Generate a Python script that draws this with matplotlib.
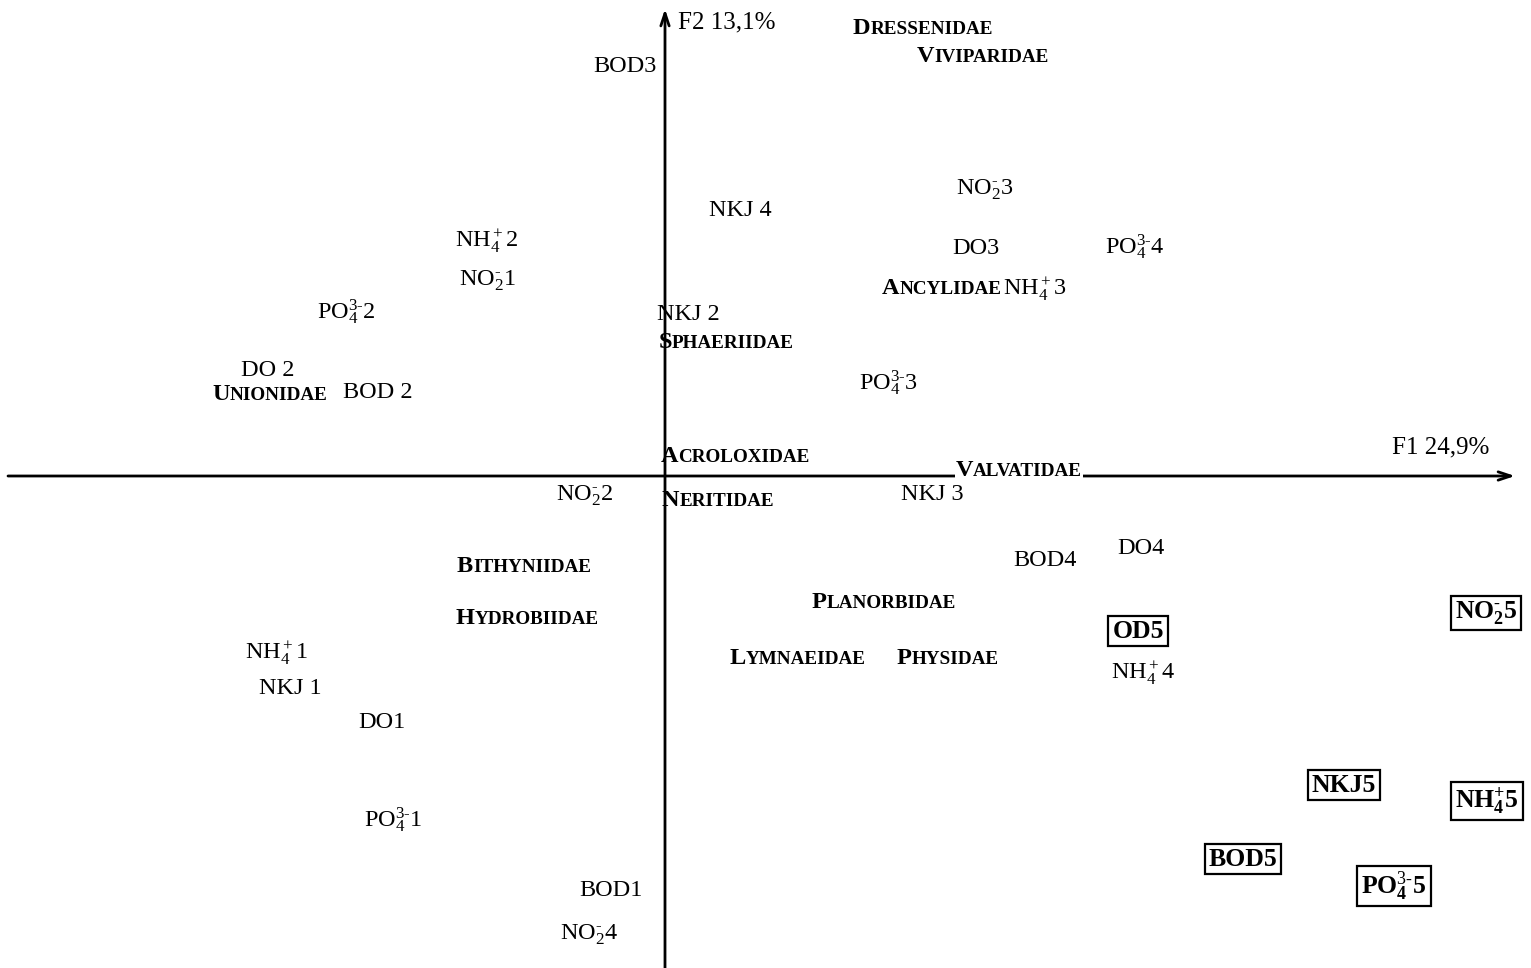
# Correspondence analysis plot: F1 x F2 plane, mollusc families and water quality classes
import matplotlib
matplotlib.use('Agg')
import matplotlib.pyplot as plt
from matplotlib.offsetbox import TextArea, HPacker, AnnotationBbox

plt.rcParams['font.family'] = ['Liberation Serif', 'DejaVu Serif']
plt.rcParams['mathtext.fontset'] = 'custom'
plt.rcParams['mathtext.rm'] = 'Liberation Serif'
plt.rcParams['mathtext.it'] = 'Liberation Serif:italic'
plt.rcParams['mathtext.bf'] = 'Liberation Serif:bold'

NO2 = r'NO$_2^{\text{-}}$'
NH4 = r'NH$_4^+$'
PO4 = r'PO$_4^{\text{3-}}$'

# Variable classes (regular labels): name, F1, F2
var_labels = ['BOD3', 'NKJ 4', NO2 + '3', 'DO3', PO4 + '4', NH4 + '3',
              NH4 + '2', NO2 + '1', PO4 + '2', 'NKJ 2', 'DO 2', 'BOD 2',
              PO4 + '3', NO2 + '2', 'NKJ 3', 'BOD4', 'DO4', NH4 + '4',
              NH4 + '1', 'NKJ 1', 'DO1', PO4 + '1', 'BOD1', NO2 + '4']
var_f1 = [-0.40, 0.75, 3.20, 3.11, 4.70, 3.70,
          -1.78, -1.78, -3.19, 0.23, -3.97, -2.87,
          2.24, -0.80, 2.67, 3.80, 4.76, 4.78,
          -3.89, -3.75, -2.83, -2.72, -0.54, -0.76]
var_f2 = [4.09, 2.66, 2.86, 2.28, 2.29, 1.87,
          2.35, 1.95, 1.64, 1.62, 1.06, 0.84,
          0.93, -0.20, -0.18, -0.84, -0.72, -1.97,
          -1.77, -2.12, -2.47, -3.44, -4.15, -4.59]

# Class 5 (boxed, bold)
box_labels = ['OD5', r'NO$_\mathbf{2}^{\text{-}}$5', 'NKJ5', r'NH$_\mathbf{4}^\mathbf{+}$5',
              'BOD5', r'PO$_\mathbf{4}^{\text{3-}}$5']
box_f1 = [4.73, 8.21, 6.79, 8.22, 5.78, 7.29]
box_f2 = [-1.55, -1.37, -3.09, -3.25, -3.83, -4.10]

# Mollusc families (small caps, bold)
fam_labels = ['Dressenidae', 'Viviparidae', 'Ancylidae', 'Sphaeriidae', 'Unionidae',
              'Acroloxidae', 'Valvatidae', 'Neritidae', 'Bithyniidae', 'Hydrobiidae',
              'Planorbidae', 'Lymnaeidae', 'Physidae']
fam_f1 = [2.58, 3.18, 2.77, 0.61, -3.95, 0.70, 3.54, 0.53, -1.41, -1.38, 2.19, 1.33, 2.83]
fam_f2 = [4.48, 4.20, 1.87, 1.34, 0.81, 0.20, 0.05, -0.25, -0.90, -1.43, -1.27, -1.83, -1.83]

fig = plt.figure(figsize=(15.31, 9.68), dpi=100)
ax = fig.add_axes([0, 0, 1, 1])
ax.set_xlim(-6.65, 8.66)
ax.set_ylim(-4.92, 4.76)
ax.set_axis_off()

# axes of the factorial plane
ax.annotate('', xy=(8.50, 0), xytext=(-6.57, 0),
            arrowprops=dict(arrowstyle='->,head_length=0.9,head_width=0.3',
                            lw=2, color='black', shrinkA=0, shrinkB=0))
ax.annotate('', xy=(0, 4.67), xytext=(0, -4.92),
            arrowprops=dict(arrowstyle='->,head_length=0.9,head_width=0.3',
                            lw=2, color='black', shrinkA=0, shrinkB=0))
ax.text(7.76, 0.29, 'F1 24,9%', fontsize=18, ha='center', va='center')
ax.text(0.13, 4.54, 'F2 13,1%', fontsize=18, ha='left', va='center')

for lab, x, y in zip(var_labels, var_f1, var_f2):
    ax.text(x, y, lab, fontsize=17.5, ha='center', va='center')

for lab, x, y in zip(box_labels, box_f1, box_f2):
    ax.text(x, y, lab, fontsize=18.5, fontweight='bold', ha='center', va='center',
            bbox=dict(boxstyle='square,pad=0.15', fc='white', ec='black', lw=1.6))


def small_caps(word, x, y, white_bg=False):
    first = TextArea(word[0], textprops=dict(fontsize=17.5, fontweight='bold',
                                             family='Liberation Serif'))
    rest = TextArea(word[1:].upper(), textprops=dict(fontsize=13.8, fontweight='bold',
                                                     family='Liberation Serif'))
    pack = HPacker(children=[first, rest], align='baseline', pad=0, sep=0)
    ab = AnnotationBbox(pack, (x, y), xycoords='data', frameon=white_bg, pad=0.05,
                        box_alignment=(0.5, 0.5))
    if white_bg:
        ab.patch.set_facecolor('white')
        ab.patch.set_edgecolor('none')
    ax.add_artist(ab)


for lab, x, y in zip(fam_labels, fam_f1, fam_f2):
    small_caps(lab, x, y, white_bg=(lab == 'Valvatidae'))

fig.savefig('out.png', dpi=100, facecolor='white')
